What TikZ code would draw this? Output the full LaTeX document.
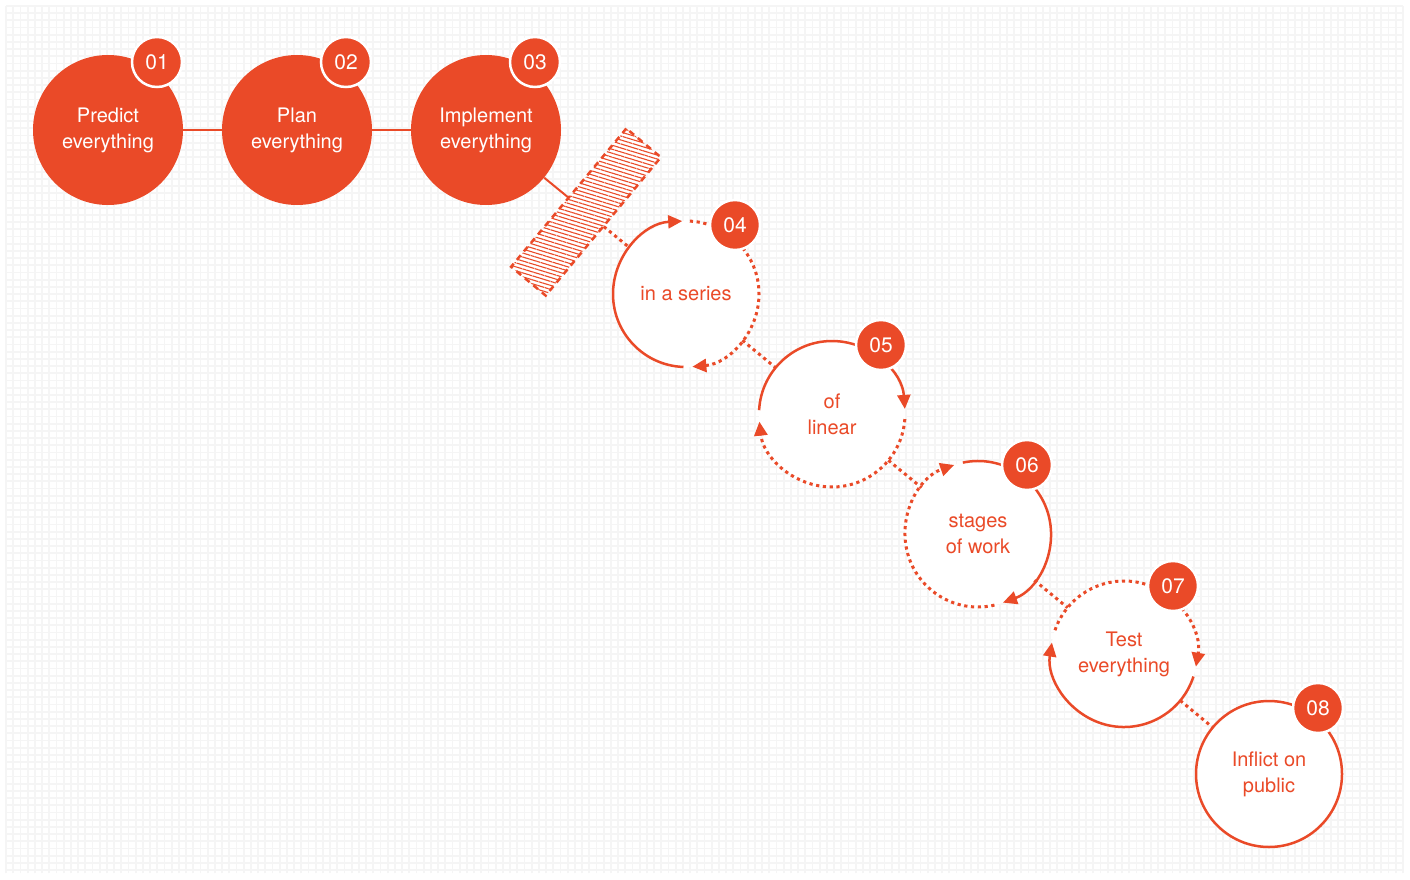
\documentclass[tikz,border=0pt]{standalone}
\usepackage{fontspec}
\setmainfont{TeX Gyre Heros}
\usetikzlibrary{arrows.meta, positioning, patterns.meta}
\definecolor{accent}{HTML}{EA4A28}
\tikzset{
  >={Triangle[length=14pt,width=13pt]}, % filled heads on the loops
  node distance=189pt, % centre to centre for the first three stages
  every node/.style={font=\fontsize{20}{26}\selectfont, align=center},
  filled/.style={circle, fill=accent, text=white, minimum size=150pt,
    inner sep=0pt}, % planned stages
  open/.style={circle, fill=white, text=accent, minimum size=146pt,
    inner sep=0pt, outer sep=0pt}, % stages in the loop
  badge/.style={circle, fill=accent, draw=white, line width=2.5pt,
    text=white, minimum size=50pt, inner sep=0pt,
    font=\fontsize{21}{21}\selectfont}, % the step numbers
  ring/.style={draw=accent, line width=2.5pt},
  dots/.style={ring, line width=3pt, dash pattern=on 3.2pt off 3.6pt},
}

\begin{document}
\begin{tikzpicture}[x=1pt, y=1pt]
    \useasboundingbox (0,0) rectangle (1410,-880);
    \fill[white] (0,0) rectangle (1410,-880);
    % grid paper
    \draw[gray!8, line width=1.8pt, shift={(6,-6)}] (0,0) grid[step=7.2] (1397,-867);

    \node[filled] (step_1) at (108,-130) {Predict\\everything};
    \node[filled, right of=step_1] (step_2) {Plan\\everything};
    \node[filled, right of=step_2] (step_3) {Implement\\everything};

    \node[open] (step_4) at (686,-294) {in a series};
    \node[open, on grid, below right=120pt and 146pt of step_4] (step_5) {of\\linear};
    \node[open, on grid, below right=120pt and 146pt of step_5] (step_6) {stages\\of work};
    \node[open, on grid, below right=120pt and 146pt of step_6] (step_7) {Test\\everything};
    \node[open, ring, on grid, below right=120pt and 145pt of step_7] (step_8) {Inflict on\\public};

    \node[rectangle, rotate=50.2, minimum width=180pt, minimum height=45pt,
      draw=accent, line width=2.5pt, dash pattern=on 6pt off 5pt,
      preaction={fill=white}, pattern color=accent,
      pattern={Lines[angle=-17, distance=3.8pt, line width=1.1pt]}] (block) at (586,-212) {};

    \draw[accent, line width=2pt]
    (step_1) edge (step_2)
    (step_2) edge (step_3)
    (step_3) edge (block);

    \draw[dots]
    (block) edge (step_4)
    (step_4) edge (step_5)
    (step_5) edge (step_6)
    (step_6) edge (step_7)
    (step_7) edge (step_8);

    % the loops round each stage
    \draw[ring, ->] (step_4.-92) arc[start angle=-92, end angle=-267, radius=73];
    \draw[dots, ->] (step_4.87) arc[start angle=87, end angle=-85, radius=73];
    \draw[ring, ->] (step_5.177) arc[start angle=177, end angle=4, radius=73];
    \draw[dots, ->] (step_5.-4) arc[start angle=-4, end angle=-174, radius=73];
    \draw[ring, ->] (step_6.102) arc[start angle=102, end angle=-70, radius=73];
    \draw[dots, ->] (step_6.-77) arc[start angle=-77, end angle=-251, radius=73];
    \draw[ring, ->] (step_7.-18) arc[start angle=-18, end angle=-189, radius=73];
    \draw[dots, ->] (step_7.161) arc[start angle=161, end angle=-10, radius=73];

    \node[badge] (num_1) at ([shift={(49,68)}]step_1) {01};
    \node[badge] (num_2) at ([shift={(49,68)}]step_2) {02};
    \node[badge] (num_3) at ([shift={(49,68)}]step_3) {03};
    \node[badge] (num_4) at ([shift={(49,69)}]step_4) {04};
    \node[badge] (num_5) at ([shift={(49,69)}]step_5) {05};
    \node[badge] (num_6) at ([shift={(49,69)}]step_6) {06};
    \node[badge] (num_7) at ([shift={(49,68)}]step_7) {07};
    \node[badge] (num_8) at ([shift={(49,66)}]step_8) {08};
  \end{tikzpicture}
\end{document}
